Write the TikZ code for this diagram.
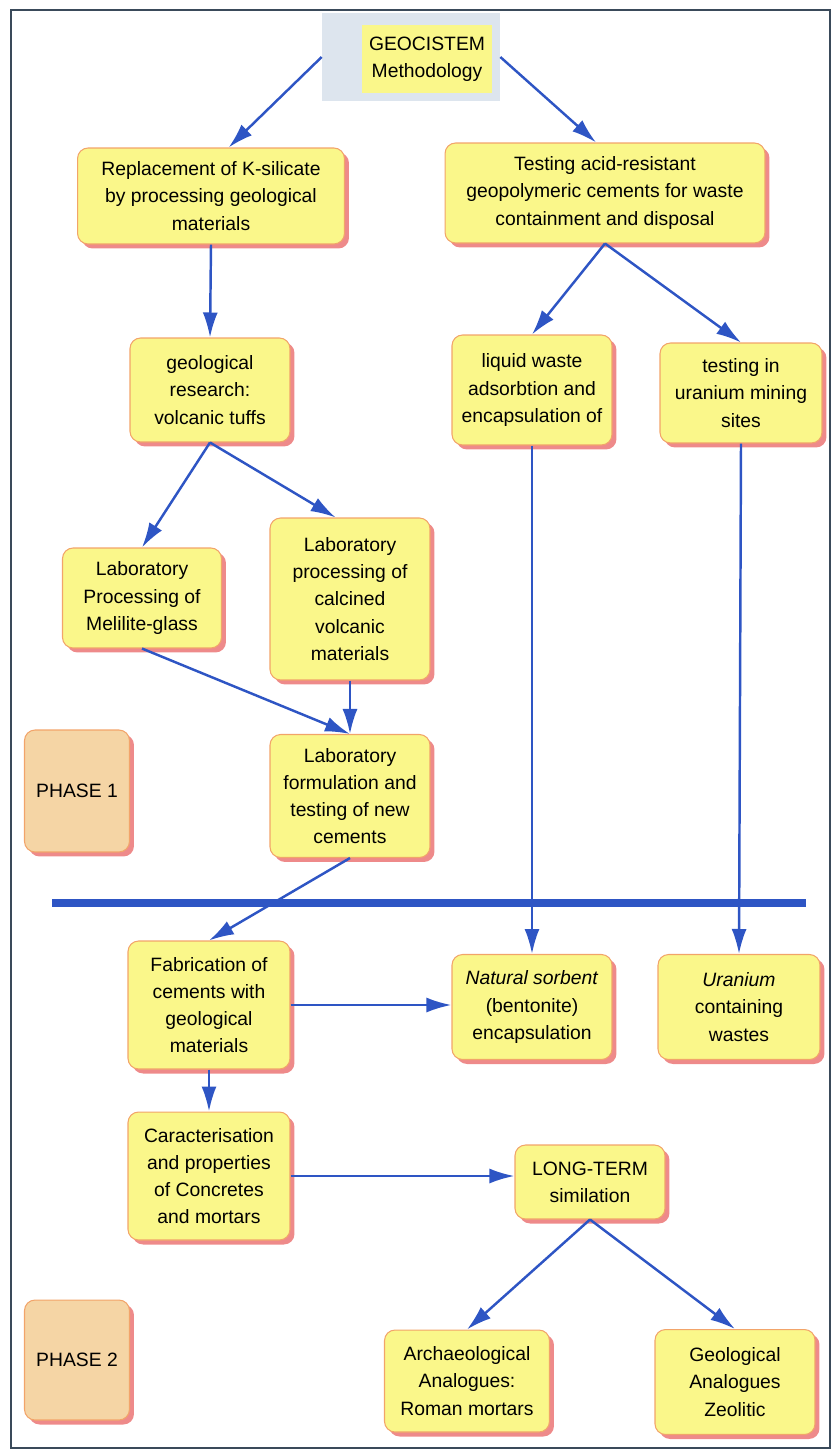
\documentclass[tikz,border=0pt]{standalone}
\usepackage{fontspec}
\setmainfont{Liberation Sans}
\usepackage{tikz}
\usetikzlibrary{positioning}
\usetikzlibrary{shadows}
\usetikzlibrary{arrows.meta}

\definecolor{boxfill}{HTML}{FAF78A}
\definecolor{boxline}{HTML}{F2A46A}
\definecolor{boxshade}{HTML}{EE8A8A}
\definecolor{phasefill}{HTML}{F5D5A5}
\definecolor{flowblue}{HTML}{2E55C4}
\definecolor{geobg}{HTML}{DDE5EE}
\definecolor{framecol}{HTML}{3A4A5A}

\tikzset{
  box/.style={rectangle, rounded corners=6pt, draw=boxline, fill=boxfill, line width=0.6pt,
    align=center, font=\fontsize{11}{15.5}\selectfont, inner sep=2pt,
    drop shadow={shadow xshift=0.09cm, shadow yshift=-0.09cm, fill=boxshade, opacity=1}},
  phasebox/.style={box, fill=phasefill},
  flow/.style={draw=flowblue, line width=1.4pt, -{Latex[length=0.5cm, width=0.3cm]}}
}

\begin{document}
\begin{tikzpicture}[x=0.02cm, y=-0.02cm]
  \useasboundingbox (0,0) rectangle (834,1450);
  \draw[framecol, line width=0.8pt] (11,10) rectangle (830,1448);

  % top node
  \node[fill=geobg, minimum width=3.56cm, minimum height=1.76cm] (geo) at (411,57) {};
  \node[fill=boxfill, minimum width=2.6cm, minimum height=1.36cm, align=center,
        font=\fontsize{11}{15.5}\selectfont] (geotext) at (427,59) {GEOCISTEM\\Methodology};

  % phase 1
  \node[box, minimum width=5.34cm, minimum height=1.92cm] (repl) at (211,196) {Replacement of K-silicate\\by processing geological\\materials};
  \node[box, minimum width=6.4cm, minimum height=2.0cm] (acid) at (605,193) {Testing acid-resistant\\geopolymeric cements for waste\\containment and disposal};
  \node[box, minimum width=3.2cm, minimum height=2.08cm] (geol) at (210,390) {geological\\research:\\volcanic tuffs};
  \node[box, minimum width=3.2cm, minimum height=2.2cm] (liquid) at (532,390) {liquid waste\\adsorbtion and\\encapsulation of};
  \node[box, minimum width=3.24cm, minimum height=2.0cm] (utest) at (741,393) {testing in\\uranium mining\\sites};
  \node[box, minimum width=3.18cm, minimum height=2.0cm] (melil) at (142,598) {Laboratory\\Processing of\\Melilite-glass};
  \node[box, minimum width=3.2cm, minimum height=3.24cm] (calc) at (350,599) {Laboratory\\processing of\\calcined\\volcanic\\materials};
  \node[box, minimum width=3.2cm, minimum height=2.46cm] (formul) at (350,796) {Laboratory\\formulation and\\testing of new\\cements};
  \node[phasebox, minimum width=2.1cm, minimum height=2.44cm] (phase1) at (77,791) {PHASE 1};

  % dividing line
  \coordinate (lineW) at (52,903);
  \coordinate (lineE) at (806,903);
  \draw[flowblue, line width=4pt] (lineW) -- (lineE);

  % phase 2
  \node[box, minimum width=3.24cm, minimum height=2.56cm] (fabr) at (209,1005) {Fabrication of\\cements with\\geological\\materials};
  \node[box, minimum width=3.2cm, minimum height=2.1cm] (sorb) at (532,1007) {\textit{Natural sorbent}\\(bentonite)\\encapsulation};
  \node[box, minimum width=3.24cm, minimum height=2.1cm] (uwaste) at (739,1007) {\textit{Uranium}\\containing\\wastes};
  \node[box, minimum width=3.24cm, minimum height=2.56cm] (carac) at (209,1176) {Caracterisation\\and properties\\of Concretes\\and mortars};
  \node[box, minimum width=3.0cm, minimum height=1.48cm] (longt) at (590,1182) {LONG-TERM\\similation};
  \node[phasebox, minimum width=2.1cm, minimum height=2.4cm] (phase2) at (77,1360) {PHASE 2};
  \node[box, minimum width=3.3cm, minimum height=2.04cm] (archae) at (467,1381) {Archaeological\\Analogues:\\Roman mortars};
  \node[box, minimum width=3.2cm, minimum height=2.1cm] (geolan) at (735,1382) {Geological\\Analogues\\Zeolitic};

  % connectors
  \draw[flow] (geo.west) -- (repl.70);
  \draw[flow] (geo.east) -- (acid.100);
  \draw[flow] (repl.south) -- (geol.north);
  \draw[flow] (acid.south) -- (liquid.north);
  \draw[flow] (acid.south) -- (utest.north);
  \draw[flow] (geol.south) -- (melil.north);
  \draw[flow] (geol.south) -- (calc.100);
  \draw[flow] (melil.south) -- (formul.north);
  \draw[flow] (calc.south) -- (formul.north);
  \draw[flow] (formul.south) -- (fabr.north);
  \draw[flow] (liquid.south) -- (sorb.north);
  \draw[flow] (utest.south) -- (uwaste.north);
  \draw[flow] (fabr.east) -- (fabr.east -| sorb.west);
  \draw[flow] (fabr.south) -- (carac.north);
  \draw[flow] (carac.east) -- (carac.east -| longt.west);
  \draw[flow] (longt.south) -- (archae.north);
  \draw[flow] (longt.south) -- (geolan.north);
\end{tikzpicture}
\end{document}
